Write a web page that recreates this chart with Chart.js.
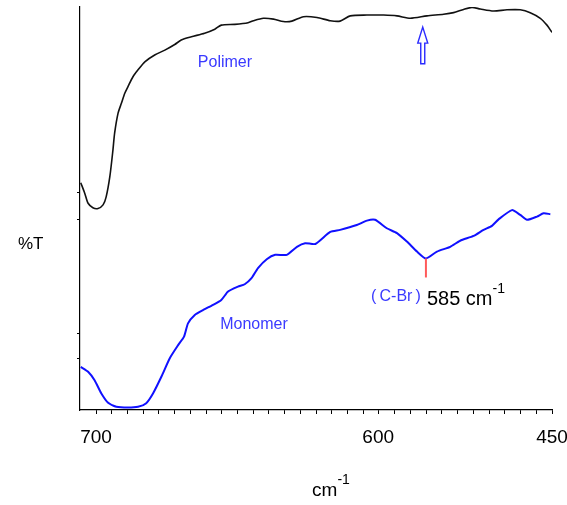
<!DOCTYPE html>
<html>
<head>
<meta charset="utf-8">
<title>IR spectra: polymer vs monomer</title>
<script src="https://cdn.jsdelivr.net/npm/chart.js@4.4.1/dist/chart.umd.min.js"></script>
<style>
  html, body { margin: 0; padding: 0; background: #ffffff; }
  canvas { display: block; }
</style>
</head>
<body>
<canvas id="ir" width="567" height="505"></canvas>
<script>
// ---- spectra (wavenumber in cm-1, transmittance in arbitrary %T units) ----
const polymerCm = [705.4, 704.0, 702.8, 701.1, 699.3, 697.5, 696.4, 695.1, 694.0, 693.4, 692.2, 691.0, 689.8, 688.7, 686.9, 685.1, 682.7, 679.2, 675.6, 672.1, 669.8, 666.2, 661.5, 657.9, 655.6, 650.8, 646.1, 644.2, 640.7, 637.1, 633.6, 630.6, 626.5, 621.7, 617.0, 613.5, 609.9, 604.0, 598.3, 594.1, 589.9, 583.9, 566.1, 555.4, 544.7, 535.7, 526.8, 512.6, 498.2, 484.0, 473.3, 462.5, 455.4, 450.0];
const polymerT  = [56.4, 53.8, 51.3, 50.2, 50.0, 50.9, 52.9, 57.9, 64.5, 68.7, 73.6, 76.1, 78.6, 80.2, 82.7, 84.4, 86.4, 88.1, 89.3, 90.7, 91.8, 92.6, 93.5, 94.5, 95.5, 95.7, 96.1, 96.6, 97.2, 97.0, 96.4, 96.5, 97.6, 97.4, 96.6, 96.5, 97.8, 98.0, 98.0, 97.8, 97.2, 97.8, 98.2, 98.6, 99.4, 99.9, 99.5, 99.0, 99.3, 99.3, 98.6, 97.2, 95.5, 93.7];

const monomerCm = [705.4, 702.8, 700.5, 698.1, 695.7, 692.8, 688.7, 685.1, 682.2, 679.8, 676.8, 673.9, 670.9, 668.8, 667.4, 665.0, 662.1, 658.5, 655.6, 653.2, 649.7, 647.3, 644.9, 642.6, 639.5, 636.5, 632.4, 628.8, 625.9, 622.3, 617.0, 613.5, 607.6, 604.0, 601.1, 597.3, 594.1, 591.0, 587.8, 585.0, 573.2, 559.0, 548.3, 534.0, 523.3, 514.3, 507.2, 492.9, 484.0, 476.8, 466.1, 459.0, 451.8];
const monomerT  = [10.7, 9.5, 7.4, 4.1, 1.8, 0.8, 0.6, 0.8, 1.7, 4.1, 8.3, 12.8, 16.1, 18.2, 21.5, 23.6, 24.8, 26.1, 27.3, 29.4, 30.6, 31.2, 32.7, 35.2, 37.4, 38.5, 38.5, 40.5, 41.4, 41.2, 44.2, 44.7, 45.9, 47.0, 47.2, 45.1, 43.9, 41.8, 39.3, 37.6, 39.3, 40.5, 42.0, 43.2, 44.7, 45.7, 47.3, 49.6, 48.4, 47.2, 48.0, 48.8, 48.6];

// labelled wavenumbers on the x axis and the assigned C-Br band
const xTickLabels = [700, 600, 450];
const cBrBand = 585;
const cBrBandT = 37.6;

// ---- x axis with a scale change (wavenumber -> fraction of axis width) ----
const xScaleBreaks = [[705.67, 0], [700, 0.0339], [600, 0.6318], [585, 0.7329], [450, 1]];

function cmToFrac(v) {
  const b = xScaleBreaks;
  let i = 0;
  while (i < b.length - 2 && v < b[i + 1][0]) i++;
  const [v0, f0] = b[i], [v1, f1] = b[i + 1];
  return f0 + (v - v0) * (f1 - f0) / (v1 - v0);
}
function fracToCm(f) {
  const b = xScaleBreaks;
  let i = 0;
  while (i < b.length - 2 && f > b[i + 1][1]) i++;
  const [v0, f0] = b[i], [v1, f1] = b[i + 1];
  return v0 + (f - f0) * (v1 - v0) / (f1 - f0);
}

class BrokenLinearScale extends Chart.LinearScale {
  getPixelForValue(value) {
    if (value === null || value === undefined || isNaN(value)) return NaN;
    return this.getPixelForDecimal(cmToFrac(value));
  }
  getValueForPixel(pixel) {
    return fracToCm(this.getDecimalForPixel(pixel));
  }
}
BrokenLinearScale.id = 'brokenLinear';
BrokenLinearScale.defaults = Chart.LinearScale.defaults;
Chart.register(BrokenLinearScale);

// evenly spaced minor tick marks, labelled ones snapped to exact wavenumbers
function xTickValues() {
  const f0 = cmToFrac(700);
  const n = 29;
  const vals = [];
  for (let k = 0; k <= n; k++) vals.push(fracToCm(f0 + k * (1 - f0) / n));
  xTickLabels.forEach(lbl => {
    let best = 0;
    vals.forEach((v, i) => { if (Math.abs(v - lbl) < Math.abs(vals[best] - lbl)) best = i; });
    vals[best] = lbl;
  });
  return vals;
}

const yTickMarks = [12.9, 19.1, 47.15, 53.85];

const FONT = 'Arial, "Liberation Sans", sans-serif';
const TEXT_BLUE = '#3a3aff';

function points(xs, ys) { return xs.map((x, i) => ({ x: x, y: ys[i] })); }

function textWithSup(ctx, base, sup, x, y, size, supSize, color, align) {
  ctx.save();
  ctx.fillStyle = color;
  ctx.textBaseline = 'alphabetic';
  ctx.font = size + 'px ' + FONT;
  const wb = ctx.measureText(base).width;
  ctx.font = supSize + 'px ' + FONT;
  const ws = ctx.measureText(sup).width;
  let left = x;
  if (align === 'center') left = x - (wb + ws) / 2;
  ctx.font = size + 'px ' + FONT;
  ctx.textAlign = 'left';
  ctx.fillText(base, left, y);
  ctx.font = supSize + 'px ' + FONT;
  ctx.fillText(sup, left + wb, y - size * 0.62);
  ctx.restore();
}

const annotations = {
  id: 'spectrumNotes',
  afterDraw(chart) {
    const ctx = chart.ctx;
    const xs = chart.scales.x, ys = chart.scales.y;

    ctx.save();
    // y axis title
    ctx.fillStyle = '#000';
    ctx.font = '17px ' + FONT;
    ctx.textAlign = 'left';
    ctx.textBaseline = 'middle';
    ctx.fillText('%T', 18, 244);

    // series names
    ctx.fillStyle = TEXT_BLUE;
    ctx.font = '16px ' + FONT;
    ctx.textAlign = 'center';
    ctx.fillText('Polimer', xs.getPixelForValue(654.3), ys.getPixelForValue(86.1));
    ctx.fillText('Monomer', xs.getPixelForValue(644.0), ys.getPixelForValue(21.1));

    // C-Br band marker
    const bx = xs.getPixelForValue(cBrBand);
    const byTop = ys.getPixelForValue(cBrBandT);
    ctx.strokeStyle = '#ff5a5a';
    ctx.lineWidth = 2;
    ctx.beginPath();
    ctx.moveTo(bx, byTop);
    ctx.lineTo(bx, byTop + 19);
    ctx.stroke();

    ctx.fillStyle = TEXT_BLUE;
    ctx.font = '16px ' + FONT;
    ctx.textAlign = 'right';
    ctx.textBaseline = 'alphabetic';
    ctx.fillText('(\u2009C-Br\u2009)', bx - 5, byTop + 43);
    ctx.restore();

    textWithSup(ctx, '585 cm', '-1', bx + 1, byTop + 47, 20, 14, '#000', 'left');

    // hollow arrow pointing at the polymer trace
    const ax = xs.getPixelForValue(586);
    const tip = ys.getPixelForValue(95.0);
    const tail = ys.getPixelForValue(85.9);
    ctx.save();
    ctx.strokeStyle = '#2a2aff';
    ctx.lineWidth = 1.4;
    ctx.lineJoin = 'miter';
    ctx.beginPath();
    ctx.moveTo(ax, tip);
    ctx.lineTo(ax + 5, tip + 16);
    ctx.lineTo(ax + 2, tip + 16);
    ctx.lineTo(ax + 2, tail);
    ctx.lineTo(ax - 2, tail);
    ctx.lineTo(ax - 2, tip + 16);
    ctx.lineTo(ax - 5, tip + 16);
    ctx.closePath();
    ctx.stroke();
    ctx.restore();

    // x axis title
    textWithSup(ctx, 'cm', '-1', 331, 496, 19, 14, '#000', 'center');
  }
};

new Chart(document.getElementById('ir'), {
  type: 'line',
  data: {
    datasets: [
      {
        label: 'Polimer',
        data: points(polymerCm, polymerT),
        borderColor: '#111111',
        borderWidth: 1.6,
        pointRadius: 0,
        tension: 0.25,
        fill: false
      },
      {
        label: 'Monomer',
        data: points(monomerCm, monomerT),
        borderColor: '#1010ff',
        borderWidth: 2,
        pointRadius: 0,
        tension: 0.2,
        fill: false
      }
    ]
  },
  options: {
    responsive: false,
    animation: false,
    events: [],
    layout: { padding: { left: 80, right: 15, top: 7, bottom: 0 } },
    plugins: { legend: { display: false }, tooltip: { enabled: false } },
    scales: {
      x: {
        type: 'brokenLinear',
        min: 450,
        max: 705.67,
        position: 'bottom',
        grid: { drawOnChartArea: false, drawTicks: true, tickLength: 4, color: '#000', lineWidth: 1 },
        border: { display: true, color: '#000', width: 1.2 },
        ticks: {
          autoSkip: false,
          maxRotation: 0,
          padding: 12,
          color: '#000',
          font: { family: FONT, size: 19 },
          callback: (v) => xTickLabels.includes(v) ? String(v) : ''
        },
        afterBuildTicks: (s) => { s.ticks = xTickValues().map(v => ({ value: v })); },
        afterFit: (s) => { s.height = 95; s.paddingLeft = 0; s.paddingRight = 0; }
      },
      y: {
        min: 0,
        max: 100,
        grid: { drawOnChartArea: false, drawTicks: true, tickLength: 3, color: '#000' },
        border: { display: true, color: '#000', width: 1.2 },
        ticks: { display: false },
        afterBuildTicks: (s) => { s.ticks = yTickMarks.map(v => ({ value: v })); },
        afterFit: (s) => { s.width = 0; }
      }
    }
  },
  plugins: [annotations]
});
</script>
</body>
</html>
